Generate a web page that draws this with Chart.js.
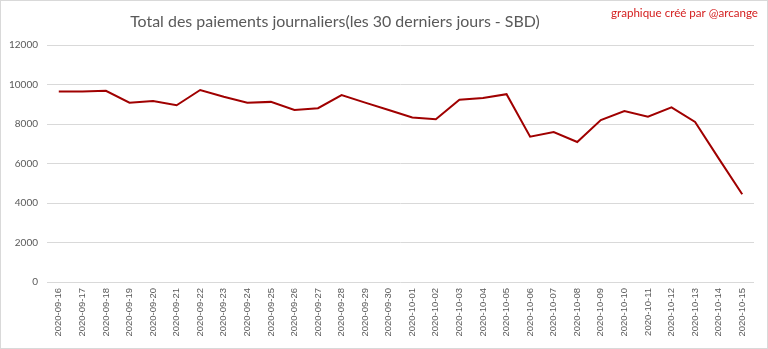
<!DOCTYPE html>
<html>
<head>
<meta charset="utf-8">
<script src="https://cdn.jsdelivr.net/npm/chart.js@4"></script>
<style>
  body { margin: 0; background: #fff; }
  #wrap { position: relative; width: 768px; height: 349px; }
  #frame { position: absolute; left: 0; top: 0; width: 766px; height: 347px; border: 1px solid #d9d9d9; pointer-events: none; }
</style>
</head>
<body>
<div id="wrap">
  <canvas id="lineChart" width="768" height="349"></canvas>
  <div id="frame"></div>
</div>
<script>
const labels = ['2020-09-16', '2020-09-17', '2020-09-18', '2020-09-19', '2020-09-20', '2020-09-21',
  '2020-09-22', '2020-09-23', '2020-09-24', '2020-09-25', '2020-09-26', '2020-09-27', '2020-09-28',
  '2020-09-29', '2020-09-30', '2020-10-01', '2020-10-02', '2020-10-03', '2020-10-04', '2020-10-05',
  '2020-10-06', '2020-10-07', '2020-10-08', '2020-10-09', '2020-10-10', '2020-10-11', '2020-10-12',
  '2020-10-13', '2020-10-14', '2020-10-15'];
const payouts = [9640, 9640, 9680, 9080, 9160, 8950, 9720, 9380, 9080, 9120, 8710, 8800, 9460,
  9080, 8710, 8330, 8240, 9230, 9320, 9510, 7360, 7590, 7090, 8200, 8660, 8370, 8840, 8100, 6260, 4440];
const yTicks = [0, 2000, 4000, 6000, 8000, 10000, 12000];

const titleText = 'Total des paiements journaliers(les 30 derniers jours - SBD)';
const creditText = 'graphique créé par @arcange';

// title + credit drawn by hand so they sit where the original has them
const headerPlugin = {
  id: 'header',
  afterDraw(chart) {
    const c = chart.ctx;
    c.save();
    let size = 17;
    c.font = size + 'px Lato';
    const w = c.measureText(titleText).width;
    size = size * 410 / w;
    c.font = size.toFixed(2) + 'px Lato';
    c.fillStyle = '#595959';
    c.textAlign = 'center';
    c.textBaseline = 'middle';
    c.fillText(titleText, 335, 22);

    let s2 = 11;
    c.font = s2 + 'px Lato';
    const w2 = c.measureText(creditText).width;
    s2 = s2 * 147 / w2;
    c.font = s2.toFixed(2) + 'px Lato';
    c.fillStyle = '#d42020';
    c.textAlign = 'left';
    c.fillText(creditText, 611, 13);
    c.restore();
  }
};

const ctx = document.getElementById('lineChart').getContext('2d');
const myChart = new Chart(ctx, {
  type: 'line',
  data: {
    labels: labels,
    datasets: [{
      label: 'SBD',
      data: payouts,
      borderColor: '#a00000',
      backgroundColor: '#a00000',
      borderWidth: 2,
      pointRadius: 0,
      tension: 0
    }]
  },
  options: {
    responsive: false,
    animation: false,
    layout: { padding: { top: 45, right: 14, left: 0, bottom: 0 } },
    plugins: {
      legend: { display: false },
      title: { display: false },
      tooltip: { enabled: false }
    },
    scales: {
      x: {
        offset: true,
        grid: { display: false, drawTicks: false },
        border: { display: false },
        ticks: {
          minRotation: 90,
          maxRotation: 90,
          autoSkip: false,
          padding: 6,
          color: '#595959',
          font: { family: 'Liberation Sans', size: 9.5 }
        },
        afterFit(scale) { scale.height = 67; }
      },
      y: {
        min: 0,
        max: 12000,
        afterBuildTicks(scale) { scale.ticks = yTicks.map(v => ({ value: v })); },
        grid: { color: '#d9d9d9', lineWidth: 1, drawTicks: false },
        border: { display: false },
        ticks: {
          padding: 9,
          color: '#595959',
          font: { family: 'Lato', size: 10 },
          callback: v => String(v)
        },
        afterFit(scale) { scale.width = 47; }
      }
    }
  },
  plugins: [headerPlugin]
});
</script>
</body>
</html>
